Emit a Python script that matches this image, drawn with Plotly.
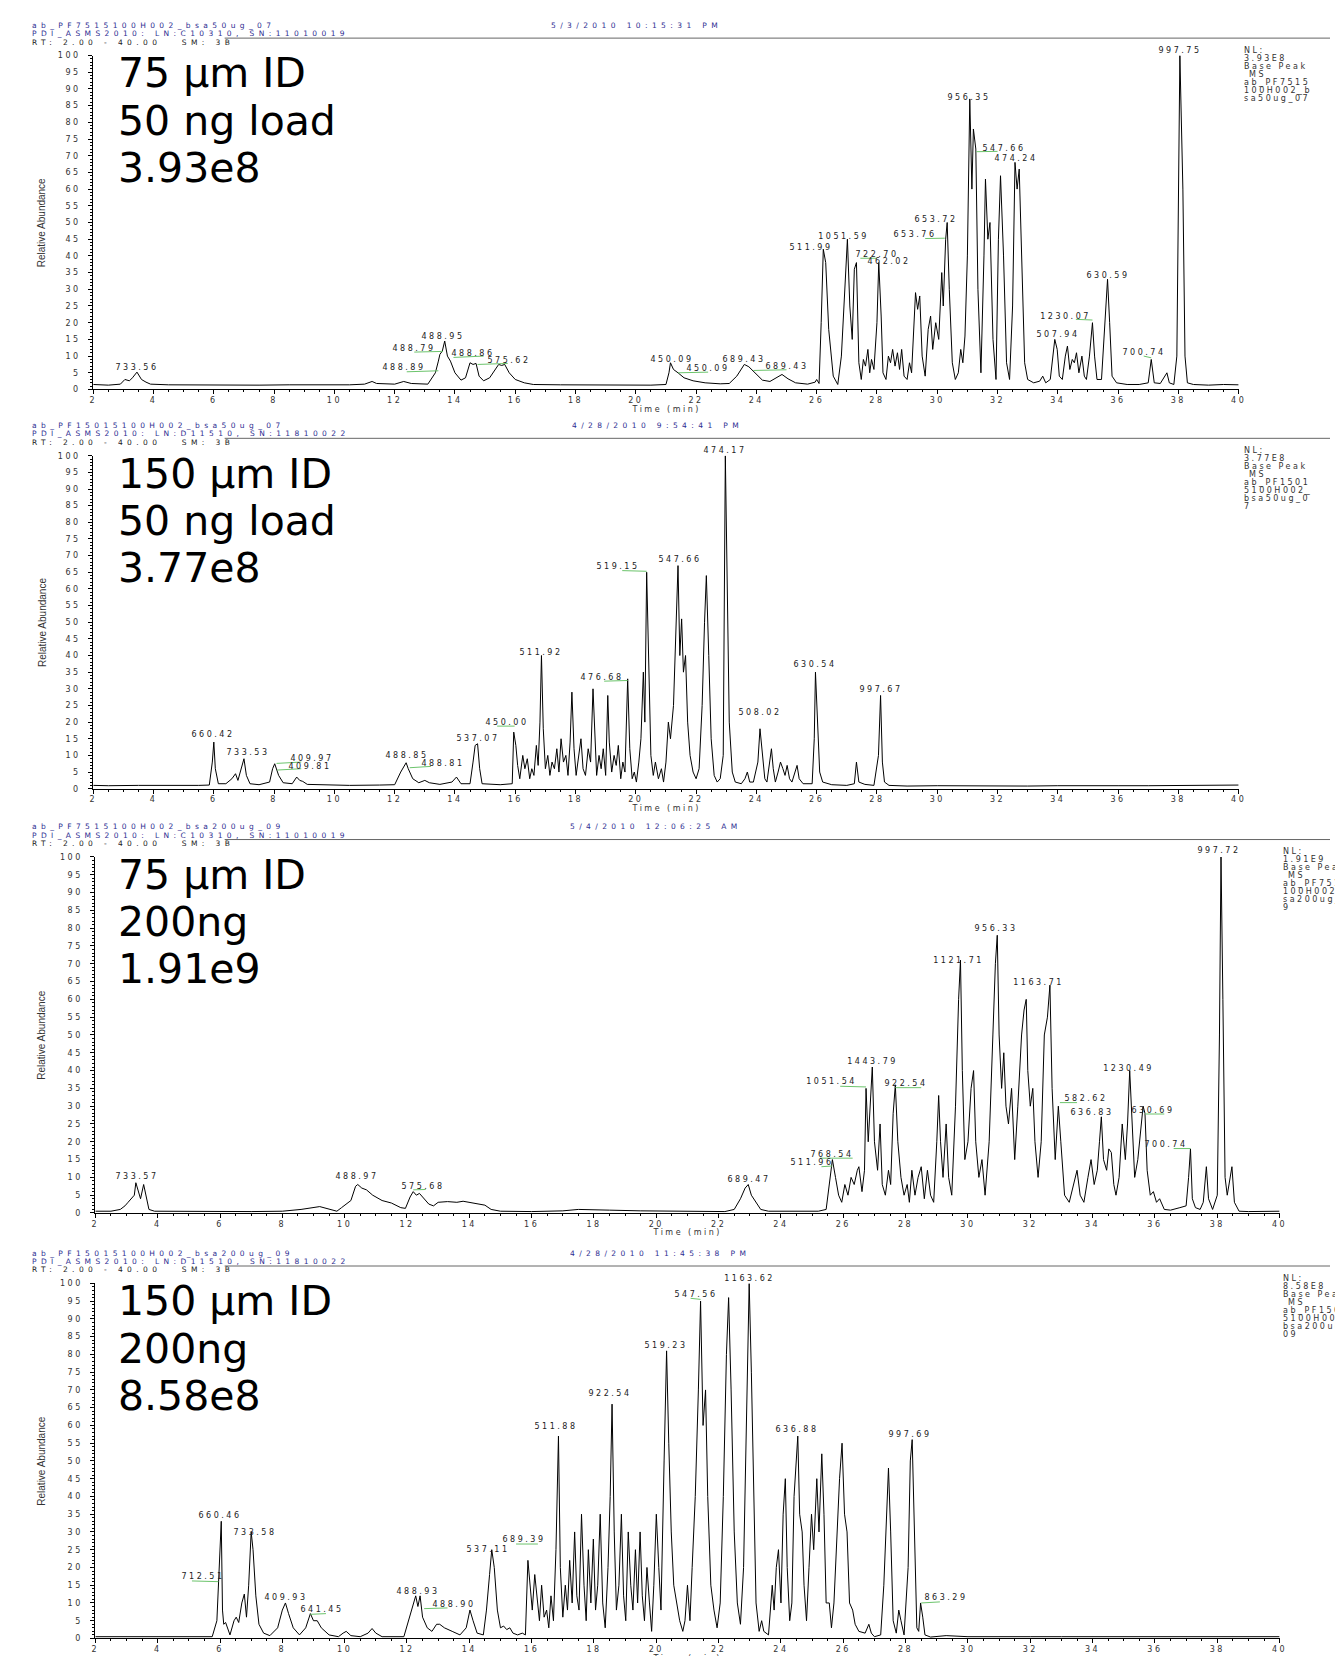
import plotly.graph_objects as go

W, H = 1335, 1656
FONT = "DejaVu Sans"

# ---------------- data: panel 1 (75 um ID, 50 ng) ----------------
p1_time = [
 2.0, 2.5, 2.9, 3.05, 3.2, 3.3, 3.45, 3.6, 3.75, 3.9,
 4.5, 5.5, 6.5, 7.5, 8.5, 9.5, 10.5, 11.0, 11.25, 11.4,
 12.0, 12.3, 12.55, 13.1, 13.35, 13.45, 13.5, 13.58, 13.66, 13.75,
 13.85, 14.0, 14.2, 14.35, 14.5, 14.6, 14.7, 14.8, 14.95, 15.15,
 15.3, 15.45, 15.55, 15.65, 15.8, 16.0, 16.3, 16.6, 17.5, 18.5,
 19.5, 20.5, 21.0, 21.1, 21.15, 21.25, 21.4, 21.6, 21.9, 22.3,
 22.8, 23.1, 23.35, 23.6, 23.75, 23.95, 24.2, 24.45, 24.7, 24.85,
 25.05, 25.3, 25.7, 25.95, 26.0, 26.08, 26.15, 26.22, 26.3, 26.4,
 26.55, 26.7, 26.82, 26.95, 27.02, 27.1, 27.18, 27.25, 27.32, 27.4,
 27.48, 27.55, 27.62, 27.7, 27.76, 27.82, 27.9, 28.0, 28.06, 28.14,
 28.2, 28.3, 28.38, 28.45, 28.52, 28.6, 28.68, 28.75, 28.82, 28.9,
 29.0, 29.08, 29.15, 29.28, 29.35, 29.42, 29.5, 29.6, 29.7, 29.78,
 29.85, 29.95, 30.05, 30.15, 30.2, 30.28, 30.33, 30.4, 30.5, 30.6,
 30.7, 30.78, 30.85, 30.92, 31.0, 31.08, 31.15, 31.2, 31.28, 31.35,
 31.45, 31.55, 31.6, 31.68, 31.75, 31.85, 31.95, 32.03, 32.1, 32.2,
 32.3, 32.4, 32.5, 32.58, 32.65, 32.72, 32.8, 32.9, 33.0, 33.2,
 33.4, 33.5, 33.6, 33.75, 33.9, 33.98, 34.05, 34.15, 34.25, 34.32,
 34.4, 34.48, 34.55, 34.62, 34.7, 34.8, 34.88, 34.95, 35.05, 35.15,
 35.22, 35.3, 35.45, 35.55, 35.65, 35.72, 35.8, 35.95, 36.3, 36.7,
 37.0, 37.1, 37.2, 37.4, 37.55, 37.62, 37.7, 37.85, 37.95, 38.05,
 38.15, 38.22, 38.3, 38.5, 39.0, 39.5, 40.0]
p1_abund = [
 1.5, 1.3, 1.6, 3.0, 2.6, 3.5, 5.2, 3.0, 2.2, 1.6,
 1.4, 1.3, 1.4, 1.3, 1.4, 1.3, 1.4, 1.6, 2.4, 1.8,
 1.6, 2.4, 1.8, 1.6, 5.0, 8.5, 10.5, 11.5, 14.5, 10.0,
 8.5, 5.0, 2.8, 3.5, 8.0, 7.5, 7.8, 4.0, 2.6, 3.5,
 5.5, 7.5, 7.2, 7.5, 5.0, 3.0, 2.0, 1.5, 1.4, 1.3,
 1.4, 1.3, 1.5, 5.0, 8.0, 6.0, 5.0, 3.5, 2.6, 2.0,
 1.7, 1.8, 4.0, 7.5, 6.8, 5.0, 2.8, 2.4, 3.8, 4.5,
 3.2, 2.0, 1.6, 2.2, 3.0, 1.8, 20, 42, 38, 18,
 4, 1.5, 10, 32, 45, 25, 15, 36, 38, 8,
 3, 9, 7, 12, 5, 9, 6, 20, 38, 22,
 5, 3, 10, 8, 12, 7, 11, 6, 12, 4,
 3, 8, 5, 29, 24, 28, 10, 4, 18, 22,
 12, 20, 15, 35, 25, 45, 50, 30, 8, 3,
 5, 12, 8, 16, 40, 87, 60, 78, 72, 30,
 5, 40, 63, 45, 50, 15, 3, 45, 64, 40,
 8, 3, 25, 68, 60, 66, 40, 8, 3, 2,
 2.5, 4, 2, 3, 15, 12, 4, 3, 10, 13,
 6, 9, 8, 11, 5, 10, 4, 3, 10, 20,
 10, 3, 3, 20, 33, 20, 4, 2, 1.5, 1.5,
 2, 9, 2, 1.8, 4, 5, 2, 1.5, 10, 100,
 60, 10, 2, 1.5, 1.3, 1.5, 1.4]
p1_lbl_text = ["733.56", "488.89", "488.79", "488.95", "488.86", "575.62", "450.09", "450.09",
               "689.43", "689.43", "511.99", "1051.59", "722.70", "462.02", "653.76", "653.72",
               "956.35", "547.66", "474.24", "1230.07", "507.94", "630.59", "700.74", "997.75"]
p1_lbl_t = [3.45, 12.3, 12.65, 13.6, 14.6, 15.78, 21.2, 22.38,
            23.6, 25.0, 25.82, 26.9, 28.0, 28.4, 29.25, 29.95,
            31.05, 32.2, 32.62, 34.25, 34.0, 35.65, 36.85, 38.05]
p1_lbl_v = [6.5, 6.6, 12.4, 15.8, 10.8, 8.7, 9.1, 6.3,
            9.1, 6.9, 42.5, 45.9, 40.5, 38.4, 46.4, 50.8,
            87.5, 72.3, 69.2, 22.0, 16.4, 34.0, 11.0, 101.5]
p1_lnk_t0 = [12.4, 12.65, 13.95, 14.75, 21.4, 23.9, 27.45, 29.6, 31.3, 34.6, 36.85]
p1_lnk_v0 = [5.3, 11.2, 9.6, 7.5, 5.0, 5.7, 39.3, 45.2, 71.2, 21.0, 10.0]
p1_lnk_t1 = [13.45, 13.6, 14.95, 15.75, 22.4, 25.0, 28.0, 30.25, 32.0, 35.15, 37.1]
p1_lnk_v1 = [5.6, 11.4, 10.0, 7.8, 5.2, 5.9, 39.3, 45.3, 71.3, 20.8, 9.5]

# ---------------- data: panel 2 (150 um ID, 50 ng) ----------------
p2_time = [
 2.0, 2.5, 3.5, 4.5, 5.5, 5.85, 5.95, 6.0, 6.05, 6.15,
 6.4, 6.6, 6.72, 6.8, 6.92, 7.0, 7.08, 7.2, 7.5, 7.85,
 7.95, 8.02, 8.15, 8.3, 8.6, 8.75, 8.85, 8.95, 9.1, 9.5,
 10.5, 11.5, 12.0, 12.2, 12.3, 12.38, 12.45, 12.6, 12.8, 13.0,
 13.15, 13.5, 13.9, 14.05, 14.2, 14.5, 14.6, 14.67, 14.75, 14.82,
 14.9, 15.5, 15.9, 15.95, 16.02, 16.08, 16.15, 16.25, 16.32, 16.4,
 16.48, 16.55, 16.62, 16.7, 16.76, 16.82, 16.87, 16.93, 17.0, 17.08,
 17.15, 17.22, 17.3, 17.38, 17.45, 17.52, 17.6, 17.68, 17.75, 17.82,
 17.88, 17.95, 18.02, 18.1, 18.18, 18.25, 18.33, 18.42, 18.5, 18.58,
 18.64, 18.7, 18.78, 18.85, 18.92, 19.0, 19.07, 19.12, 19.2, 19.28,
 19.35, 19.42, 19.5, 19.57, 19.64, 19.73, 19.8, 19.88, 19.95, 20.02,
 20.1, 20.17, 20.25, 20.3, 20.36, 20.42, 20.5, 20.58, 20.65, 20.75,
 20.85, 20.92, 21.0, 21.08, 21.15, 21.25, 21.33, 21.4, 21.46, 21.52,
 21.58, 21.65, 21.72, 21.8, 21.9, 22.0, 22.1, 22.2, 22.28, 22.34,
 22.42, 22.5, 22.6, 22.7, 22.8, 22.9, 22.97, 23.03, 23.1, 23.2,
 23.3, 23.5, 23.62, 23.7, 23.78, 23.9, 24.05, 24.12, 24.2, 24.28,
 24.35, 24.45, 24.5, 24.56, 24.63, 24.72, 24.8, 24.88, 24.95, 25.02,
 25.1, 25.18, 25.28, 25.35, 25.42, 25.55, 25.85, 25.92, 25.96, 26.02,
 26.1, 26.2, 26.5, 27.0, 27.25, 27.32, 27.4, 27.6, 27.9, 28.05,
 28.12, 28.18, 28.25, 28.4, 29.0, 30.0, 31.0, 32.0, 33.0, 34.0,
 35.0, 36.0, 37.0, 38.0, 39.0, 40.0]
p2_abund = [
 1.0, 0.9, 1.0, 0.9, 1.0, 1.1, 8, 14, 6, 1.5,
 1.5, 3, 4.5, 2.5, 6, 9, 4, 1.5, 1.2, 2,
 6, 7.5, 4, 1.8, 1.5, 3.5, 2.5, 2.2, 1.3, 1.2,
 1.0, 1.1, 1.2, 5, 6.5, 7.8, 6, 3, 1.8, 2.5,
 1.8, 1.3, 2, 3.5, 1.5, 1.5, 8, 13, 13.5, 6,
 1.5, 1.2, 1.5, 17, 13, 7, 3, 10, 6, 9,
 3, 6, 4, 13, 7, 20, 40, 18, 6, 10,
 4, 8, 6, 12, 5, 15, 8, 10, 4, 14,
 29, 12, 4, 10, 15, 6, 4, 12, 8, 30,
 15, 4, 10, 6, 12, 4, 28, 14, 5, 10,
 7, 13, 3, 8, 5, 33, 12, 3, 5, 2,
 8, 15, 35, 20, 65, 40, 10, 4, 8, 3,
 6, 2, 8, 20, 15, 25, 45, 67, 40, 51,
 35, 40, 20, 10, 5, 3, 6, 25, 50, 64,
 40, 15, 4, 2, 3, 10, 100, 60, 20, 5,
 2, 1.5, 3, 5, 2, 2, 8, 18, 10, 3,
 2, 8, 12, 6, 2, 5, 8, 6, 4, 7,
 3, 2, 5, 7, 3, 1.5, 1.5, 15, 35, 20,
 5, 2, 1.2, 1.0, 1.5, 8, 2, 1.3, 1.0, 10,
 28, 8, 2, 1.0, 0.8, 0.9, 0.8, 0.9, 0.8, 0.9,
 0.8, 0.9, 0.9, 1.0, 1.0, 1.1]
p2_lbl_text = ["660.42", "733.53", "409.97", "409.81", "488.85", "488.81", "537.07", "450.00",
               "511.92", "476.68", "519.15", "547.66", "474.17", "508.02", "630.54", "997.67"]
p2_lbl_t = [5.97, 7.12, 9.25, 9.18, 12.4, 13.6, 14.78, 15.72,
            16.87, 18.89, 19.42, 21.47, 22.97, 24.12, 25.96, 28.12]
p2_lbl_v = [16.4, 10.8, 9.0, 6.6, 10.0, 7.5, 15.1, 19.9,
            41.0, 33.4, 66.6, 68.8, 101.6, 23.0, 37.2, 29.7]
p2_lnk_t0 = [8.08, 8.1, 12.5, 15.4, 18.95, 19.55]
p2_lnk_v0 = [7.6, 5.6, 6.3, 18.8, 32.3, 65.5]
p2_lnk_t1 = [8.9, 8.9, 13.2, 15.98, 19.73, 20.36]
p2_lnk_v1 = [8.0, 6.0, 6.7, 18.8, 32.5, 65.3]

# ---------------- data: panel 3 (75 um ID, 200 ng) ----------------
p3_time = [
 2.0, 2.5, 2.8, 2.95, 3.05, 3.15, 3.25, 3.3, 3.38, 3.45,
 3.55, 3.62, 3.72, 3.9, 5.0, 6.0, 7.0, 8.0, 8.6, 9.2,
 9.6, 9.75, 9.9, 10.1, 10.2, 10.35, 10.42, 10.55, 10.7, 10.9,
 11.2, 11.5, 11.8, 11.95, 12.1, 12.2, 12.3, 12.4, 12.55, 12.7,
 12.85, 13.0, 13.3, 13.6, 13.8, 14.0, 14.3, 14.5, 14.7, 15.0,
 16.0, 17.0, 17.5, 18.0, 18.5, 19.5, 20.5, 21.5, 22.2, 22.5,
 22.7, 22.85, 22.95, 23.05, 23.2, 23.35, 23.6, 24.5, 25.2, 25.45,
 25.55, 25.65, 25.75, 25.85, 25.95, 26.05, 26.15, 26.25, 26.35, 26.45,
 26.5, 26.6, 26.68, 26.73, 26.8, 26.86, 26.93, 27.0, 27.1, 27.18,
 27.25, 27.35, 27.45, 27.52, 27.6, 27.67, 27.75, 27.85, 27.95, 28.05,
 28.12, 28.2, 28.3, 28.4, 28.5, 28.6, 28.7, 28.8, 28.9, 29.0,
 29.06, 29.12, 29.2, 29.3, 29.38, 29.48, 29.6, 29.7, 29.76, 29.82,
 29.9, 30.0, 30.1, 30.18, 30.25, 30.35, 30.45, 30.55, 30.68, 30.8,
 30.88, 30.94, 31.0, 31.08, 31.15, 31.22, 31.3, 31.4, 31.5, 31.6,
 31.72, 31.8, 31.87, 31.92, 32.0, 32.08, 32.15, 32.25, 32.35, 32.45,
 32.55, 32.63, 32.7, 32.8, 32.9, 32.98, 33.1, 33.25, 33.4, 33.5,
 33.6, 33.72, 33.85, 33.95, 34.05, 34.15, 34.22, 34.28, 34.35, 34.45,
 34.52, 34.6, 34.68, 34.75, 34.85, 34.95, 35.05, 35.12, 35.19, 35.26,
 35.35, 35.45, 35.55, 35.62, 35.68, 35.75, 35.85, 35.95, 36.05, 36.15,
 36.3, 36.5, 36.8, 37.0, 37.08, 37.14, 37.2, 37.3, 37.45, 37.55,
 37.65, 37.72, 37.85, 38.0, 38.07, 38.12, 38.18, 38.25, 38.32, 38.4,
 38.47, 38.55, 38.7, 39.0, 39.5, 40.0]
p3_abund = [
 0.5, 0.5, 1, 2, 3, 4, 5, 8.5, 6, 4,
 8, 5, 1, 0.5, 0.4, 0.4, 0.4, 0.5, 1.0, 1.8,
 1.0, 0.5, 1.5, 3, 3.5, 7.5, 8, 7, 6.5, 5,
 3.5, 2.8, 1.5, 1.3, 4.5, 6, 5, 5.5, 4, 2.5,
 2, 3, 3.2, 3, 3.3, 3, 2.5, 2.2, 1, 0.5,
 0.4, 0.6, 1.0, 1.0, 0.8, 0.6, 0.5, 0.4, 0.4, 1,
 4, 7, 8, 5, 3, 1, 0.5, 0.4, 0.5, 1,
 8, 15, 10, 5, 3, 8, 5, 10, 8, 12,
 13, 6, 12, 35, 20, 30, 41, 20, 12, 25,
 8, 5, 12, 8, 28, 36, 20, 10, 5, 8,
 3, 12, 5, 10, 13, 4, 12, 5, 3, 20,
 33, 20, 10, 25, 10, 5, 30, 60, 71, 40,
 15, 20, 35, 40, 20, 10, 15, 5, 20, 50,
 70, 78, 50, 35, 45, 30, 25, 35, 15, 30,
 50, 57, 60, 40, 30, 35, 20, 10, 20, 50,
 55, 64, 35, 15, 30, 20, 5, 3, 8, 12,
 5, 3, 10, 15, 8, 12, 20, 27, 15, 12,
 18, 17, 8, 5, 10, 25, 15, 25, 40, 25,
 10, 15, 25, 30, 28, 12, 5, 6, 3, 4,
 1, 0.8, 1.5, 2, 10, 18, 4, 1.5, 1, 3,
 13, 4, 1, 5, 50, 100, 60, 10, 5, 10,
 13, 3, 0.5, 0.4, 0.4, 0.5]
p3_lbl_text = ["733.57", "488.97", "575.68", "689.47", "768.54", "511.96", "1051.54", "1443.79",
               "922.54", "1121.71", "956.33", "1163.71", "1230.49", "582.62", "636.83", "630.69",
               "700.74", "997.72"]
p3_lbl_t = [3.35, 10.38, 12.5, 22.96, 25.65, 24.98, 25.62, 26.93,
            28.01, 29.7, 30.91, 32.26, 35.15, 33.8, 33.97, 35.93,
            36.37, 38.05]
p3_lbl_v = [10.3, 10.3, 7.5, 9.5, 16.5, 14.2, 36.9, 42.5,
            36.3, 71.0, 80.0, 64.6, 40.7, 32.2, 28.3, 28.9,
            19.2, 101.8]
p3_lnk_t0 = [12.2, 25.25, 25.3, 25.9, 27.67, 32.95, 35.68, 36.6]
p3_lnk_v0 = [6.5, 15.4, 13.0, 35.6, 35.2, 31.0, 27.8, 18.1]
p3_lnk_t1 = [12.6, 26.3, 25.65, 26.73, 28.5, 33.5, 36.3, 37.14]
p3_lnk_v1 = [6.6, 15.4, 13.2, 35.4, 35.2, 31.0, 27.8, 18.1]

# ---------------- data: panel 4 (150 um ID, 200 ng) ----------------
p4_time = [
 2.0, 3.0, 4.0, 5.0, 5.75, 5.9, 5.95, 6.0, 6.04, 6.08,
 6.12, 6.18, 6.25, 6.32, 6.45, 6.52, 6.6, 6.7, 6.78, 6.85,
 6.92, 7.0, 7.06, 7.15, 7.25, 7.4, 7.6, 7.85, 8.0, 8.1,
 8.2, 8.35, 8.55, 8.75, 8.9, 9.0, 9.12, 9.25, 9.5, 9.8,
 9.95, 10.05, 10.2, 10.5, 10.75, 10.88, 11.0, 11.2, 11.9, 12.05,
 12.2, 12.28, 12.35, 12.42, 12.5, 12.65, 12.8, 12.95, 13.05, 13.2,
 13.45, 13.7, 13.9, 14.02, 14.12, 14.25, 14.45, 14.55, 14.65, 14.72,
 14.8, 14.9, 15.0, 15.1, 15.2, 15.3, 15.4, 15.55, 15.7, 15.8,
 15.88, 15.95, 16.02, 16.1, 16.18, 16.25, 16.32, 16.4, 16.48, 16.55,
 16.62, 16.7, 16.78, 16.86, 16.92, 17.0, 17.08, 17.15, 17.22, 17.3,
 17.38, 17.45, 17.52, 17.6, 17.68, 17.75, 17.82, 17.9, 17.98, 18.05,
 18.12, 18.2, 18.28, 18.36, 18.45, 18.52, 18.58, 18.65, 18.72, 18.8,
 18.88, 18.95, 19.02, 19.1, 19.18, 19.25, 19.33, 19.4, 19.48, 19.55,
 19.62, 19.7, 19.78, 19.85, 19.92, 20.0, 20.08, 20.15, 20.25, 20.33,
 20.4, 20.48, 20.56, 20.65, 20.75, 20.85, 20.92, 21.0, 21.08, 21.15,
 21.25, 21.35, 21.42, 21.5, 21.58, 21.65, 21.75, 21.85, 21.95, 22.05,
 22.15, 22.25, 22.32, 22.4, 22.5, 22.6, 22.7, 22.8, 22.9, 22.98,
 23.05, 23.12, 23.2, 23.3, 23.38, 23.45, 23.6, 23.72, 23.78, 23.85,
 23.92, 24.0, 24.07, 24.14, 24.2, 24.28, 24.35, 24.42, 24.48, 24.54,
 24.6, 24.68, 24.74, 24.82, 24.9, 24.98, 25.05, 25.15, 25.22, 25.31,
 25.38, 25.45, 25.55, 25.62, 25.7, 25.8, 25.88, 25.96, 26.04, 26.12,
 26.2, 26.3, 26.38, 26.5, 26.7, 26.82, 26.9, 27.0, 27.2, 27.3,
 27.38, 27.45, 27.52, 27.6, 27.7, 27.78, 27.85, 27.95, 28.08, 28.15,
 28.21, 28.28, 28.36, 28.42, 28.48, 28.55, 28.62, 28.8, 29.3, 30.0,
 31.0, 32.0, 33.0, 34.0, 35.0, 36.0, 37.0, 38.0, 39.0, 40.0]
p4_abund = [
 0.5, 0.5, 0.5, 0.5, 0.5, 5, 16, 28, 33, 8,
 4, 4.5, 3, 1, 5, 6, 4.5, 10, 12.5, 6,
 15, 30, 25, 12, 4, 1.5, 0.8, 3, 8, 10,
 7, 3, 1, 3, 7, 5, 5, 3, 1, 0.5,
 1.5, 2, 0.8, 0.5, 1.5, 2.8, 1.5, 0.5, 0.5, 5,
 10, 12, 9, 12, 6, 3, 2, 4, 4, 3,
 2, 1, 3, 8, 5, 1.5, 1, 8, 18, 25,
 20, 8, 3, 3.5, 2.5, 3, 1.5, 1, 1.5, 1,
 22, 15, 8, 18, 10, 5, 15, 6, 8, 3,
 12, 5, 25, 57, 20, 6, 15, 8, 22, 10,
 30, 12, 8, 35, 15, 5, 25, 10, 28, 8,
 15, 35, 10, 3, 20, 40, 66, 30, 8, 15,
 35, 12, 5, 30, 15, 8, 25, 10, 30, 12,
 5, 20, 10, 2, 15, 35, 20, 8, 50, 81,
 55, 30, 15, 10, 5, 2, 5, 15, 5, 20,
 40, 70, 95, 60, 70, 40, 15, 8, 3, 10,
 40, 80, 96, 70, 30, 10, 4, 20, 70, 100,
 75, 40, 10, 2, 5, 2, 1, 15, 8, 20,
 25, 10, 35, 45, 20, 5, 10, 40, 50, 57,
 35, 30, 15, 5, 20, 35, 25, 45, 30, 52,
 35, 10, 10, 3, 10, 30, 45, 55, 35, 30,
 10, 8, 4, 2, 1.5, 4, 1.5, 0.5, 1, 15,
 35, 48, 30, 5, 1.5, 8, 5, 1, 20, 50,
 56, 30, 3, 2, 10, 6, 1, 0.4, 0.8, 0.5,
 0.6, 0.5, 0.5, 0.5, 0.6, 0.5, 0.5, 0.5, 0.5, 0.5]
p4_lbl_text = ["712.51", "660.46", "733.58", "409.93", "641.45", "488.93", "488.90", "537.11",
               "689.39", "511.88", "922.54", "519.23", "547.56", "1163.62", "636.88", "997.69",
               "863.29"]
p4_lbl_t = [5.44, 6.01, 7.12, 8.13, 9.28, 12.34, 13.52, 14.6,
            15.75, 16.79, 18.51, 20.3, 21.27, 22.99, 24.51, 28.15,
            29.29]
p4_lbl_v = [17.5, 34.6, 29.9, 11.5, 8.2, 13.3, 9.6, 25.1,
            27.8, 59.8, 68.9, 82.5, 97.0, 101.5, 58.9, 57.4,
            11.5]
p4_lnk_t0 = [5.1, 8.9, 12.55, 15.5, 21.1, 28.5]
p4_lnk_v0 = [16.2, 6.8, 8.4, 26.6, 95.8, 10.0]
p4_lnk_t1 = [5.95, 9.4, 13.3, 16.2, 21.42, 29.1]
p4_lnk_v1 = [16.0, 7.0, 8.6, 26.6, 95.5, 10.3]

# ---------------- text blocks ----------------
p1_header = ["ab_PF7515100H002_bsa50ug_07", "PDI_ASMS2010: LN:C10310, SN:11010019", "RT: 2.00 - 40.00   SM: 3B"]
p2_header = ["ab_PF15015100H002_bsa50ug_07", "PDI_ASMS2010: LN:D11510, SN:11810022", "RT: 2.00 - 40.00   SM: 3B"]
p3_header = ["ab_PF7515100H002_bsa200ug_09", "PDI_ASMS2010: LN:C10310, SN:11010019", "RT: 2.00 - 40.00   SM: 3B"]
p4_header = ["ab_PF15015100H002_bsa200ug_09", "PDI_ASMS2010: LN:D11510, SN:11810022", "RT: 2.00 - 40.00   SM: 3B"]
p1_date = "5/3/2010 10:15:31 PM"
p2_date = "4/28/2010 9:54:41 PM"
p3_date = "5/4/2010 12:06:25 AM"
p4_date = "4/28/2010 11:45:38 PM"
p1_nl = ["NL:", "3.93E8", "Base Peak", " MS", "ab_PF7515", "100H002_b", "sa50ug_07"]
p2_nl = ["NL:", "3.77E8", "Base Peak", " MS", "ab_PF1501", "5100H002_", "bsa50ug_0", "7"]
p3_nl = ["NL:", "1.91E9", "Base Peak", " MS", "ab_PF7515", "100H002_b", "sa200ug_0", "9"]
p4_nl = ["NL:", "8.58E8", "Base Peak", " MS", "ab_PF1501", "5100H002_", "bsa200ug_", "09"]
p1_big = ["75 µm ID", "50 ng load", "3.93e8"]
p2_big = ["150 µm ID", "50 ng load", "3.77e8"]
p3_big = ["75 µm ID", "200ng", "1.91e9"]
p4_big = ["150 µm ID", "200ng", "8.58e8"]

x_tick_vals = list(range(2, 41, 2))
y_tick_vals = list(range(0, 101, 5))

PANELS = [
    dict(t=p1_time, v=p1_abund, ls=p1_lbl_text, lt=p1_lbl_t, lv=p1_lbl_v,
         g=(p1_lnk_t0, p1_lnk_v0, p1_lnk_t1, p1_lnk_v1), header=p1_header, date=p1_date,
         nl=p1_nl, big=p1_big, xpx=(90.8, 1243.1), ypx=(51.8, 387.6), datex=549, nlx=1246),
    dict(t=p2_time, v=p2_abund, ls=p2_lbl_text, lt=p2_lbl_t, lv=p2_lbl_v,
         g=(p2_lnk_t0, p2_lnk_v0, p2_lnk_t1, p2_lnk_v1), header=p2_header, date=p2_date,
         nl=p2_nl, big=p2_big, xpx=(90.8, 1243.1), ypx=(454.2, 789.0), datex=570, nlx=1246),
    dict(t=p3_time, v=p3_abund, ls=p3_lbl_text, lt=p3_lbl_t, lv=p3_lbl_v,
         g=(p3_lnk_t0, p3_lnk_v0, p3_lnk_t1, p3_lnk_v1), header=p3_header, date=p3_date,
         nl=p3_nl, big=p3_big, xpx=(92.9, 1284.3), ypx=(857.6, 1215.6), datex=568, nlx=1286),
    dict(t=p4_time, v=p4_abund, ls=p4_lbl_text, lt=p4_lbl_t, lv=p4_lbl_v,
         g=(p4_lnk_t0, p4_lnk_v0, p4_lnk_t1, p4_lnk_v1), header=p4_header, date=p4_date,
         nl=p4_nl, big=p4_big, xpx=(92.9, 1284.3), ypx=(1286.4, 1643.4), datex=568, nlx=1286),
]

fig = go.Figure()
layout = dict(width=W, height=H, margin=dict(l=0, r=0, t=0, b=0),
              paper_bgcolor="white", plot_bgcolor="white", showlegend=False)
ann = []
shapes = []

BLUE = "#2e2e92"
DARK = "#222222"


def px(xp):
    return xp / W


def py(yp):
    return 1 - yp / H


for i, P in enumerate(PANELS, start=1):
    suf = "" if i == 1 else str(i)
    xa, ya = "x" + suf, "y" + suf
    x0, x1 = P["xpx"]
    ytop, ybot = P["ypx"]
    unit = (ybot - ytop) / 100.0
    layout["xaxis" + suf] = dict(
        domain=[px(x0), px(x1)], range=[2, 40], anchor=ya, showline=True,
        linecolor="black", linewidth=1, ticks="outside", ticklen=4, tickwidth=1,
        tickcolor="black", tickvals=x_tick_vals, ticktext=[str(v) for v in x_tick_vals],
        minor=dict(dtick=0.5, tick0=2, ticks="outside", ticklen=2, tickcolor="black"),
        showgrid=False, zeroline=False, ticklabelstandoff=-1,
        tickfont=dict(family=FONT, size=8, color="#333333"), fixedrange=True)
    layout["yaxis" + suf] = dict(
        domain=[py(ybot), py(ytop)], range=[0, 100], anchor=xa, showline=True,
        linecolor="black", linewidth=1, ticks="outside", ticklen=4, tickwidth=1,
        tickcolor="black", tickvals=y_tick_vals, ticktext=[str(v) for v in y_tick_vals],
        minor=dict(dtick=1, tick0=0, ticks="outside", ticklen=2, tickcolor="black"),
        showgrid=False, zeroline=False, ticklabelstandoff=6,
        tickfont=dict(family=FONT, size=8, color="#333333"), fixedrange=True)

    # chromatogram trace
    fig.add_trace(go.Scatter(x=P["t"], y=P["v"], mode="lines", xaxis=xa, yaxis=ya,
                             line=dict(color="black", width=1), hoverinfo="skip"))
    # green label connectors
    t0s, v0s, t1s, v1s = P["g"]
    gx, gy = [], []
    for a, b, c, d in zip(t0s, v0s, t1s, v1s):
        gx += [a, c, None]
        gy += [b, d, None]
    fig.add_trace(go.Scatter(x=gx, y=gy, mode="lines", xaxis=xa, yaxis=ya,
                             line=dict(color="#6cc46c", width=1), hoverinfo="skip"))
    # peak labels
    for txt, t, v in zip(P["ls"], P["lt"], P["lv"]):
        shift = 0
        if v > 100:
            shift = (v - 100) * unit
            v = 100
        ann.append(dict(x=t, y=v, xref=xa, yref=ya, text=txt, showarrow=False,
                        xanchor="center", yanchor="middle", yshift=shift,
                        font=dict(family=FONT, size=8, color=DARK)))
    # header
    offs = [-30.5, -22.0, -13.5]
    cols = [BLUE, BLUE, DARK]
    for txt, o, c in zip(P["header"], offs, cols):
        ann.append(dict(x=px(27), y=py(ytop + o), xref="paper", yref="paper", text=txt,
                        showarrow=False, xanchor="left", yanchor="middle", align="left",
                        width=520, font=dict(family=FONT, size=7.5, color=c)))
    ann.append(dict(x=px(P["datex"]), y=py(ytop - 30.5), xref="paper", yref="paper",
                    text=P["date"], showarrow=False, xanchor="left", yanchor="middle",
                    align="left", width=260, font=dict(family=FONT, size=7.5, color=BLUE)))
    shapes.append(dict(type="line", xref="paper", yref="paper", x0=px(223), x1=1.0,
                       y0=py(ytop - 17.5), y1=py(ytop - 17.5), line=dict(color="#666666", width=1)))
    # NL block
    for k, txt in enumerate(P["nl"]):
        ann.append(dict(x=px(P["nlx"]), y=py(ytop - 5 + 8 * k), xref="paper", yref="paper",
                        text=txt, showarrow=False, xanchor="left", yanchor="middle",
                        align="left", width=140, font=dict(family=FONT, size=8, color="#333333")))
    # big annotation text
    for k, txt in enumerate(P["big"]):
        ann.append(dict(x=px(114), y=py(ytop + 18 + 47.5 * k), xref="paper", yref="paper",
                        text=txt, showarrow=False, xanchor="left", yanchor="middle",
                        align="left", width=420, font=dict(family=FONT, size=41, color="black")))
    # axis titles
    ann.append(dict(x=px(39), y=py((ytop + ybot) / 2), xref="paper", yref="paper",
                    text="Relative Abundance", textangle=-90, showarrow=False,
                    xanchor="center", yanchor="middle",
                    font=dict(family="Liberation Sans Narrow, Liberation Sans", size=10, color="#333333")))
    ann.append(dict(x=px((x0 + x1) / 2), y=py(ybot + 20), xref="paper", yref="paper",
                    text="Time (min)", showarrow=False, xanchor="center", yanchor="middle",
                    font=dict(family=FONT, size=8, color="#333333")))

layout["annotations"] = ann
layout["shapes"] = shapes
fig.update_layout(**layout)

css = ('text[style*="font-size: 8px"]{letter-spacing:2.5px;}'
       'text[style*="font-size: 7.5px"]{letter-spacing:4.4px;}'
       'body{margin:0;padding:0;overflow:hidden;}')
js = "var s=document.createElement('style');s.textContent=%r;document.head.appendChild(s);" % css

fig.write_html("out.html", post_script=js, config={"displayModeBar": False})
